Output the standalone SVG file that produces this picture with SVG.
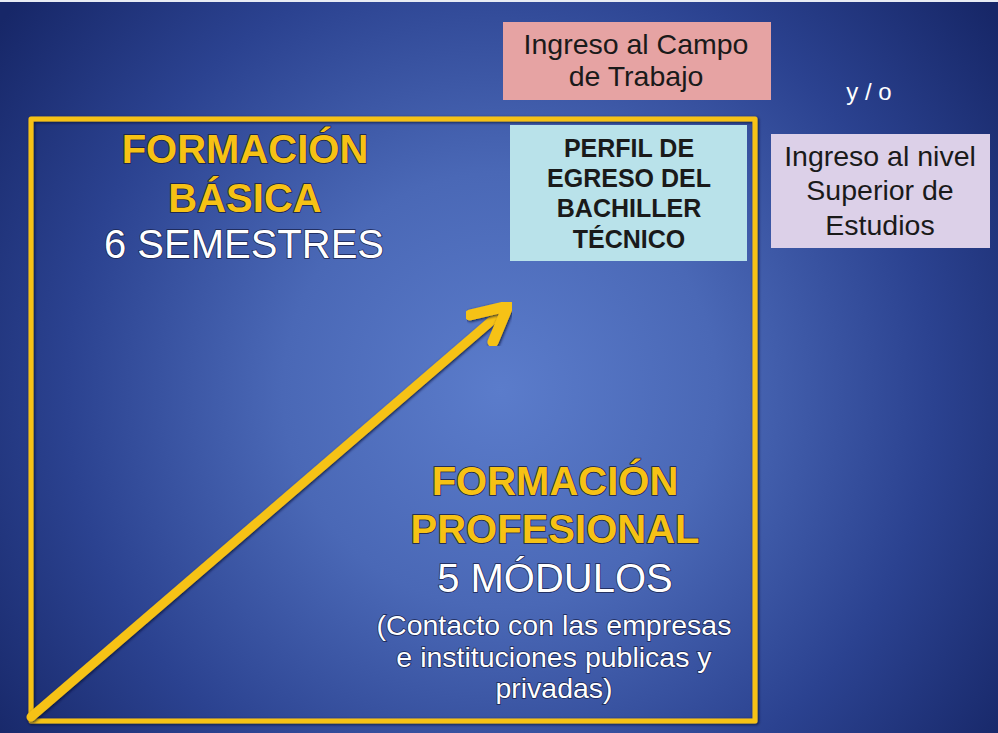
<svg xmlns="http://www.w3.org/2000/svg" width="998" height="733" viewBox="0 0 998 733">
<defs>
<radialGradient id="bg" cx="500" cy="390" r="620" gradientUnits="userSpaceOnUse">
<stop offset="0" stop-color="#5b7ccb"/>
<stop offset="0.35" stop-color="#4a68b6"/>
<stop offset="0.7" stop-color="#2b4290"/>
<stop offset="1" stop-color="#172768"/>
</radialGradient>
<filter id="sh" x="-10%" y="-10%" width="120%" height="120%">
<feGaussianBlur in="SourceAlpha" stdDeviation="1.5"/>
<feOffset dx="1" dy="1" result="b"/>
<feFlood flood-color="#0a1030" flood-opacity="0.9"/>
<feComposite in2="b" operator="in"/>
<feMerge><feMergeNode/><feMergeNode in="SourceGraphic"/></feMerge>
</filter>
</defs>
<style>
.t{font-family:"Liberation Sans",Arial,sans-serif;text-anchor:middle}
.y{fill:#f6c214;font-weight:bold;font-size:40px;stroke:#1a2040;stroke-width:1.5px;paint-order:stroke}
.w{fill:#ffffff;stroke:#1a2550;stroke-width:1.5px;paint-order:stroke}
.d{fill:#1a1a1a}
.ln{fill:none;stroke:#f6c214;stroke-linecap:round;stroke-linejoin:round}
</style>
<rect width="998" height="733" fill="url(#bg)"/>
<rect x="0" y="0" width="998" height="2" fill="#e8ecf4"/>

<g id="frame">
<rect x="31" y="119" width="724" height="602" class="ln" stroke-width="5" filter="url(#sh)"/>
</g>

<g id="connectors">
<path d="M31,717 L503,311" class="ln" stroke-width="9" filter="url(#sh)"/>
<path d="M470,315 L508,306 L493,342" class="ln" stroke-width="11" filter="url(#sh)"/>
</g>

<g id="basica">
<text class="t y" x="245" y="163">FORMACIÓN</text>
<text class="t y" x="245" y="212">BÁSICA</text>
<text class="t w" x="244" y="258" font-size="40">6 SEMESTRES</text>
</g>

<g id="profesional">
<text class="t y" x="555" y="495">FORMACIÓN</text>
<text class="t y" x="555" y="543">PROFESIONAL</text>
<text class="t w" x="555" y="592" font-size="40">5 MÓDULOS</text>
<text class="t w" x="554" y="635" font-size="28.5">(Contacto con las empresas</text>
<text class="t w" x="554" y="667" font-size="28.5">e instituciones publicas y</text>
<text class="t w" x="554" y="698" font-size="28.5">privadas)</text>
</g>

<g id="campo">
<rect x="503" y="22" width="268" height="78" fill="#e6a3a3"/>
<text class="t d" x="636" y="54" font-size="28.5">Ingreso al Campo</text>
<text class="t d" x="636" y="86" font-size="28.5">de Trabajo</text>
</g>

<g id="yo">
<text class="t" x="869" y="100" font-size="24" fill="#ffffff">y / o</text>
</g>

<g id="perfil">
<rect x="510" y="125" width="237" height="136" fill="#b9e2ea"/>
<text class="t d" x="629" y="157" font-size="25" font-weight="bold">PERFIL DE</text>
<text class="t d" x="629" y="187" font-size="25" font-weight="bold">EGRESO DEL</text>
<text class="t d" x="629" y="217" font-size="25" font-weight="bold">BACHILLER</text>
<text class="t d" x="629" y="248" font-size="25" font-weight="bold">TÉCNICO</text>
</g>

<g id="superior">
<rect x="771" y="134" width="219" height="114" fill="#dcd0e8"/>
<text class="t d" x="880" y="166" font-size="28.5">Ingreso al nivel</text>
<text class="t d" x="880" y="200" font-size="28.5">Superior de</text>
<text class="t d" x="880" y="235" font-size="28.5">Estudios</text>
</g>
</svg>
